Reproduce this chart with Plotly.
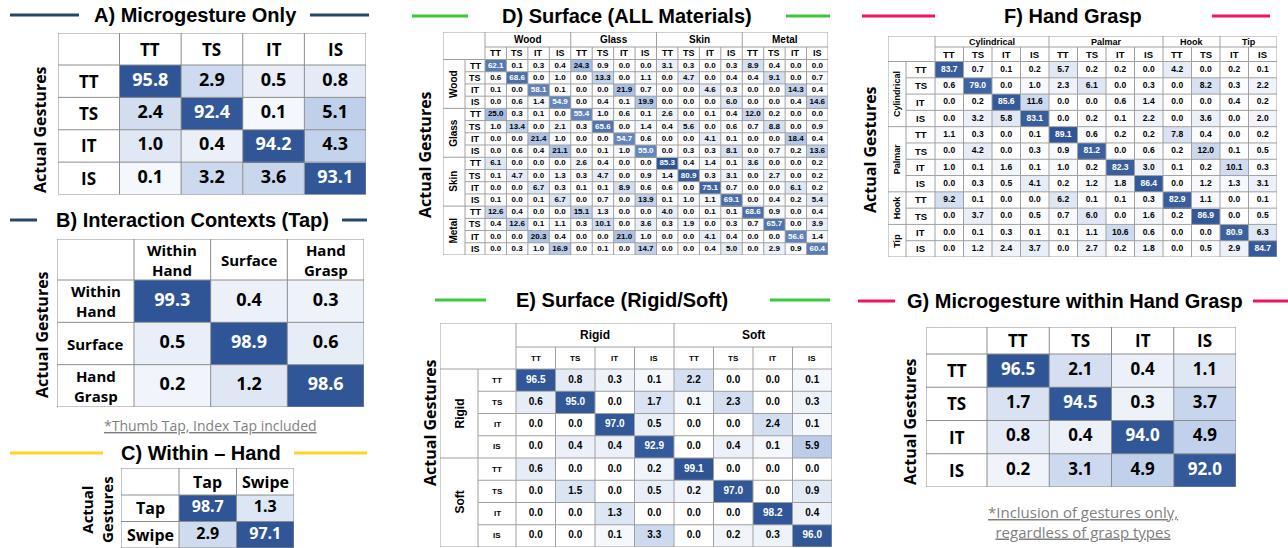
import plotly.graph_objects as go
import numpy as np

W, H = 1288, 548

# ---------------- data ----------------
G4 = ["TT", "TS", "IT", "IS"]

A_labels = G4
A_values = [[95.8, 2.9, 0.5, 0.8],
            [2.4, 92.4, 0.1, 5.1],
            [1.0, 0.4, 94.2, 4.3],
            [0.1, 3.2, 3.6, 93.1]]

B_labels = ["Within<br>Hand", "Surface", "Hand<br>Grasp"]
B_values = [[99.3, 0.4, 0.3],
            [0.5, 98.9, 0.6],
            [0.2, 1.2, 98.6]]

C_labels = ["Tap", "Swipe"]
C_values = [[98.7, 1.3],
            [2.9, 97.1]]

D_groups = ["Wood", "Glass", "Skin", "Metal"]
D_group_sizes = [4, 4, 4, 4]
D_sub = G4 * 4
D_values = [
    [62.1, 0.1, 0.3, 0.4, 24.3, 0.9, 0.0, 0.0, 3.1, 0.3, 0.0, 0.3, 8.9, 0.4, 0.0, 0.0],
    [0.6, 68.6, 0.0, 1.0, 0.0, 13.3, 0.0, 1.1, 0.0, 4.7, 0.0, 0.4, 0.4, 9.1, 0.0, 0.7],
    [0.1, 0.0, 58.1, 0.1, 0.0, 0.0, 21.9, 0.7, 0.0, 0.0, 4.6, 0.3, 0.0, 0.0, 14.3, 0.4],
    [0.0, 0.6, 1.4, 54.9, 0.0, 0.4, 0.1, 19.9, 0.0, 0.0, 0.0, 6.0, 0.0, 0.0, 0.4, 14.6],
    [25.0, 0.3, 0.1, 0.0, 55.4, 1.0, 0.6, 0.1, 2.6, 0.0, 0.1, 0.4, 12.0, 0.2, 0.0, 0.0],
    [1.0, 13.4, 0.0, 2.1, 0.3, 65.6, 0.0, 1.4, 0.4, 5.6, 0.0, 0.6, 0.7, 8.8, 0.0, 0.9],
    [0.0, 0.0, 21.4, 1.0, 0.0, 0.0, 54.7, 0.6, 0.0, 0.0, 4.1, 0.1, 0.0, 0.0, 18.4, 0.4],
    [0.0, 0.6, 0.4, 21.1, 0.0, 0.1, 1.0, 55.0, 0.0, 0.3, 0.3, 8.1, 0.0, 0.7, 0.2, 13.6],
    [6.1, 0.0, 0.0, 0.0, 2.6, 0.4, 0.0, 0.0, 85.3, 0.4, 1.4, 0.1, 3.6, 0.0, 0.0, 0.2],
    [0.1, 4.7, 0.0, 1.3, 0.3, 4.7, 0.0, 0.9, 1.4, 80.9, 0.3, 3.1, 0.0, 2.7, 0.0, 0.2],
    [0.0, 0.0, 6.7, 0.3, 0.1, 0.1, 8.9, 0.6, 0.6, 0.0, 75.1, 0.7, 0.0, 0.0, 6.1, 0.2],
    [0.1, 0.0, 0.1, 6.7, 0.0, 0.7, 0.0, 13.9, 0.1, 1.0, 1.1, 69.1, 0.0, 0.4, 0.2, 5.4],
    [12.6, 0.4, 0.0, 0.0, 15.1, 1.3, 0.0, 0.0, 4.0, 0.0, 0.1, 0.1, 68.6, 0.9, 0.0, 0.4],
    [0.4, 12.6, 0.1, 1.1, 0.3, 10.1, 0.0, 3.6, 0.3, 1.9, 0.0, 0.3, 0.7, 65.7, 0.0, 3.9],
    [0.0, 0.0, 20.3, 0.4, 0.0, 0.0, 21.0, 1.0, 0.0, 0.0, 4.1, 0.4, 0.0, 0.0, 56.6, 1.4],
    [0.0, 0.3, 1.0, 16.9, 0.0, 0.1, 0.0, 14.7, 0.0, 0.0, 0.4, 5.0, 0.0, 2.9, 0.9, 60.4],
]

E_groups = ["Rigid", "Soft"]
E_group_sizes = [4, 4]
E_sub = G4 * 2
E_values = [
    [96.5, 0.8, 0.3, 0.1, 2.2, 0.0, 0.0, 0.1],
    [0.6, 95.0, 0.0, 1.7, 0.1, 2.3, 0.0, 0.3],
    [0.0, 0.0, 97.0, 0.5, 0.0, 0.0, 2.4, 0.1],
    [0.0, 0.4, 0.4, 92.9, 0.0, 0.4, 0.1, 5.9],
    [0.6, 0.0, 0.0, 0.2, 99.1, 0.0, 0.0, 0.0],
    [0.0, 1.5, 0.0, 0.5, 0.2, 97.0, 0.0, 0.9],
    [0.0, 0.0, 1.3, 0.0, 0.0, 0.0, 98.2, 0.4],
    [0.0, 0.0, 0.1, 3.3, 0.0, 0.2, 0.3, 96.0],
]

F_groups = ["Cylindrical", "Palmar", "Hook", "Tip"]
F_group_sizes = [4, 4, 2, 2]
F_sub = ["TT", "TS", "IT", "IS", "TT", "TS", "IT", "IS", "TT", "TS", "IT", "IS"]
F_values = [
    [83.7, 0.7, 0.1, 0.2, 5.7, 0.2, 0.2, 0.0, 4.2, 0.0, 0.2, 0.1],
    [0.6, 79.0, 0.0, 1.0, 2.3, 6.1, 0.0, 0.3, 0.0, 8.2, 0.3, 2.2],
    [0.0, 0.2, 85.6, 11.6, 0.0, 0.0, 0.6, 1.4, 0.0, 0.0, 0.4, 0.2],
    [0.0, 3.2, 5.8, 83.1, 0.0, 0.2, 0.1, 2.2, 0.0, 3.6, 0.0, 2.0],
    [1.1, 0.3, 0.0, 0.1, 89.1, 0.6, 0.2, 0.2, 7.8, 0.4, 0.0, 0.2],
    [0.0, 4.2, 0.0, 0.3, 0.9, 81.2, 0.0, 0.6, 0.2, 12.0, 0.1, 0.5],
    [1.0, 0.1, 1.6, 0.1, 1.0, 0.2, 82.3, 3.0, 0.1, 0.2, 10.1, 0.3],
    [0.0, 0.3, 0.5, 4.1, 0.2, 1.2, 1.8, 86.4, 0.0, 1.2, 1.3, 3.1],
    [9.2, 0.1, 0.0, 0.0, 6.2, 0.1, 0.1, 0.3, 82.9, 1.1, 0.0, 0.1],
    [0.0, 3.7, 0.0, 0.5, 0.7, 6.0, 0.0, 1.6, 0.2, 86.9, 0.0, 0.5],
    [0.0, 0.1, 0.3, 0.1, 0.1, 1.1, 10.6, 0.6, 0.0, 0.0, 80.9, 6.3],
    [0.0, 1.2, 2.4, 3.7, 0.0, 2.7, 0.2, 1.8, 0.0, 0.5, 2.9, 84.7],
]

G_labels = G4
G_values = [[96.5, 2.1, 0.4, 1.1],
            [1.7, 94.5, 0.3, 3.7],
            [0.8, 0.4, 94.0, 4.9],
            [0.2, 3.1, 4.9, 92.0]]

# ---------------- style ----------------
CS = [[0.0, "#ffffff"], [0.3, "#b8cae8"], [0.5, "#8eaadb"], [1.0, "#2f5597"]]
ARIAL = "Liberation Sans, Arial, sans-serif"
OPEN = "Open Sans, sans-serif"
NAVY = "#24476b"
YELLOW = "#ffd320"
GREEN = "#3cc83c"
PINK = "#f0145a"

fig = go.Figure()
shapes = []
annos = []


def px_x(p):
    return min(max(p / W, 0.0), 1.0)


def px_y(p):
    return min(max(1 - p / H, 0.0), 1.0)


def panel(n, values, box, hcols, hrows, gamma, vfont, vfam, hfont, hfam,
          col_labels=None, row_labels=None, groups=None, gsizes=None, sub=None,
          gfont=None, grid="#8c8c8c"):
    x0, x1, y0, y1 = box
    z = np.array(values, dtype=float)
    nr, nc = z.shape
    cw = (x1 - x0) / nc
    ch = (y1 - y0) / nr
    hx = sum(hcols)
    hy = sum(hrows)
    xa, ya = ("x", "y") if n == 1 else (f"x{n}", f"y{n}")
    xl = -0.5 - hx / cw
    yt = -0.5 - hy / ch
    xr = nc - 0.5
    yb = nr - 0.5
    fig.update_layout(**{
        ("xaxis" if n == 1 else f"xaxis{n}"): dict(
            domain=[px_x(x0 - hx), px_x(x1)], range=[xl, xr], visible=False,
            fixedrange=True, anchor=ya),
        ("yaxis" if n == 1 else f"yaxis{n}"): dict(
            domain=[px_y(y1), px_y(y0 - hy)], range=[yb, yt], visible=False,
            fixedrange=True, anchor=xa),
    })
    vmax = z.max()
    fig.add_trace(go.Heatmap(
        z=(z / vmax) ** gamma, x=list(range(nc)), y=list(range(nr)),
        colorscale=CS, zmin=0, zmax=1, showscale=False, hoverinfo="skip",
        xaxis=xa, yaxis=ya))
    xs, ys, ts, cs = [], [], [], []
    for i in range(nr):
        for j in range(nc):
            xs.append(j)
            ys.append(i)
            ts.append(f"<b>{z[i, j]:.1f}</b>")
            cs.append("#ffffff" if z[i, j] / vmax > 0.5 else "#000000")
    fig.add_trace(go.Scatter(
        x=xs, y=ys, mode="text", text=ts, hoverinfo="skip",
        textfont=dict(color=cs, size=vfont, family=vfam),
        xaxis=xa, yaxis=ya, showlegend=False, cliponaxis=False))

    def line(xa0, ya0, xa1, ya1, color=grid, w=1):
        shapes.append(dict(type="line", xref=xa, yref=ya, x0=xa0, y0=ya0,
                           x1=xa1, y1=ya1, line=dict(color=color, width=w),
                           layer="above"))

    def text(x, y, s, size, fam, angle=0):
        annos.append(dict(xref=xa, yref=ya, x=x, y=y, text=f"<b>{s}</b>",
                          showarrow=False, textangle=angle,
                          xanchor="center", yanchor="middle",
                          font=dict(size=size, family=fam, color="#000000")))

    if groups is None:
        for i in range(nr + 1):
            line(xl, i - 0.5, xr, i - 0.5)
        line(xl, yt, xr, yt)
        for j in range(nc + 1):
            line(j - 0.5, yt, j - 0.5, yb)
        line(xl, yt, xl, yb)
        for j, s in enumerate(col_labels):
            text(j, -0.5 - hy / ch / 2, s, hfont, hfam)
        for i, s in enumerate(row_labels):
            text(-0.5 - hx / cw / 2, i, s, hfont, hfam)
    else:
        xs_ = -0.5 - hcols[1] / cw
        ys_ = -0.5 - hrows[1] / ch
        bounds = np.cumsum([0] + list(gsizes))
        line(xl, yt, xr, yt)
        line(xl, yb, xr, yb)
        line(xl, yt, xl, yb)
        line(xr, yt, xr, yb)
        line(xl, -0.5, xr, -0.5)
        line(-0.5, yt, -0.5, yb)
        line(-0.5, ys_, xr, ys_)
        line(xs_, -0.5, xs_, yb)
        for k in range(1, nr):
            line(xl if k in bounds else xs_, k - 0.5, xr, k - 0.5)
        for k in range(1, nc):
            line(k - 0.5, yt if k in bounds else ys_, k - 0.5, yb)
        for g, s in enumerate(groups):
            c = (bounds[g] + bounds[g + 1] - 1) / 2
            text(c, yt + hrows[0] / ch / 2, s, gfont, hfam)
            text(xl + hcols[0] / cw / 2, c, s, gfont, hfam, angle=-90)
        for j, s in enumerate(sub):
            text(j, ys_ + hrows[1] / ch / 2, s, hfont, hfam)
            text(xs_ + hcols[1] / cw / 2, j, s, hfont, hfam)


def paper_text(s, cx, cy, size, fam, color, angle=0):
    annos.append(dict(xref="paper", yref="paper", x=px_x(cx), y=px_y(cy),
                      text=s, showarrow=False, textangle=angle,
                      xanchor="center", yanchor="middle",
                      font=dict(size=size, family=fam, color=color)))


def title(s, cx, cy, size, left, right, color):
    paper_text(f"<b>{s}</b>", cx, cy, size, ARIAL, "#000000")
    for a, b in (left, right):
        shapes.append(dict(type="line", xref="paper", yref="paper",
                           x0=px_x(a), x1=px_x(b), y0=px_y(cy), y1=px_y(cy),
                           line=dict(color=color, width=3)))


def ylabel(s, cx, cy, size):
    paper_text(f"<b>{s}</b>", cx, cy, size, OPEN, "#000000", angle=-90)


def note(s, cx, cy, size):
    paper_text(s, cx, cy, size, OPEN, "#7f7f7f")


# ---------------- panels ----------------
panel(1, A_values, (119.5, 366, 65, 194.5), [61.5], [32], 0.45, 18, OPEN, 17, OPEN,
      col_labels=A_labels, row_labels=A_labels)
title("A) Microgesture Only", 195, 15, 20, (10, 79), (310, 369), NAVY)
ylabel("Actual Gestures", 40, 130, 16)

panel(2, B_values, (134, 364, 280, 407), [77], [41], 0.45, 18, OPEN, 15, OPEN,
      col_labels=B_labels, row_labels=B_labels)
title("B) Interaction Contexts (Tap)", 192, 220, 20, (10, 37), (342, 367), NAVY)
ylabel("Actual Gestures", 42, 335, 16)
note("<u>*Thumb Tap, Index Tap included</u>", 210, 425, 14)

panel(3, C_values, (179, 294, 495, 548), [58], [27], 0.45, 16, OPEN, 16, OPEN,
      col_labels=C_labels, row_labels=C_labels)
title("C) Within \u2013 Hand", 201, 453, 20, (10, 103), (294, 367), YELLOW)
ylabel("Actual<br>Gestures", 97, 510, 15)

panel(4, D_values, (485, 828, 59.5, 255), [22, 20], [15, 12.5], 0.75, 8, ARIAL, 9, ARIAL,
      groups=D_groups, gsizes=D_group_sizes, sub=D_sub, gfont=10, grid="#a0a0a0")
title("D) Surface (ALL Materials)", 627, 16, 20, (412, 468), (786, 830), GREEN)
ylabel("Actual Gestures", 425, 155, 16)

panel(5, E_values, (516, 832, 369, 547), [38, 38], [24, 22], 0.45, 10, ARIAL, 8, ARIAL,
      groups=E_groups, gsizes=E_group_sizes, sub=E_sub, gfont=12, grid="#a0a0a0")
title("E) Surface (Rigid/Soft)", 622, 300, 20, (435, 486), (770, 830), GREEN)
ylabel("Actual Gestures", 430, 423, 16)

panel(6, F_values, (935, 1277, 61.5, 257), [18, 29], [11, 14.5], 0.75, 8.5, ARIAL, 9.5, ARIAL,
      groups=F_groups, gsizes=F_group_sizes, sub=F_sub, gfont=9, grid="#a0a0a0")
title("F) Hand Grasp", 1073, 16, 20, (862, 935), (1212, 1270), PINK)
ylabel("Actual Gestures", 870, 150, 16)

panel(7, G_values, (987, 1236, 354, 487), [61], [27], 0.45, 17, OPEN, 17, OPEN,
      col_labels=G_labels, row_labels=G_labels)
title("G) Microgesture within Hand Grasp", 1075, 301, 20, (858, 895), (1253, 1288), PINK)
ylabel("Actual Gestures", 910, 422, 16)
note("<u>*Inclusion of gestures only,</u><br><u>regardless of grasp types</u>", 1083, 522, 15)

fig.update_layout(
    width=W, height=H, margin=dict(l=0, r=0, t=0, b=0),
    paper_bgcolor="#ffffff", plot_bgcolor="rgba(0,0,0,0)",
    showlegend=False, shapes=shapes, annotations=annos,
)
fig.write_html("out.html")
